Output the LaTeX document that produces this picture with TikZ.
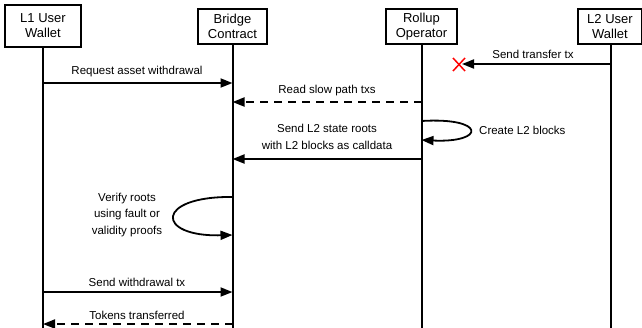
\documentclass[tikz,border=0pt]{standalone}
\usepackage{fontspec}
\setmainfont{Liberation Sans}
\usetikzlibrary{arrows.meta}
\begin{document}
\begin{tikzpicture}[x=1pt,y=-1pt,
  actor/.style={draw,line width=2pt,fill=white,align=center,inner sep=0pt,
    font=\fontsize{13}{15}\selectfont},
  lifeline/.style={line width=2pt},
  msg/.style={line width=1.8pt,-{Triangle[length=12pt,width=9pt]}},
  reply/.style={msg,dash pattern=on 8pt off 6pt},
  lbl/.style={align=center,font=\fontsize{11.5}{16.5}\selectfont,inner sep=0pt}]
\useasboundingbox (0,0) rectangle (642,327);

% participants
\node[actor,minimum width=76pt,minimum height=42pt] (l1) at (43,26) {L1 User\\Wallet};
\node[actor,minimum width=69pt,minimum height=35pt] (br) at (232.5,26.5) {Bridge\\Contract};
\node[actor,minimum width=71pt,minimum height=35pt] (ro) at (421.5,26.5) {Rollup\\Operator};
\node[actor,minimum width=64pt,minimum height=35pt] (l2) at (610,26.5) {L2 User\\Wallet};

% lifeline ends
\coordinate (l1end) at (43,328);
\coordinate (brend) at (232.5,328);
\coordinate (roend) at (421.5,328);
\coordinate (l2end) at (611,328);
\draw[lifeline] (l1.south) -- (l1end);
\draw[lifeline] (br.south) -- (brend);
\draw[lifeline] (ro.south) -- (roend);
\draw[lifeline] (l2.south) ++(1,0) -- (l2end);

% message anchors on the lifelines
\coordinate (l1a) at (43,83);   \coordinate (bra) at (232.5,83);
\coordinate (rob) at (421.5,102); \coordinate (brb) at (232.5,102);
\coordinate (roc) at (421.5,159); \coordinate (brc) at (232.5,159);
\coordinate (l2d) at (611,64);  \coordinate (xd) at (462,64);
\coordinate (ros) at (421.5,121); \coordinate (roe) at (421.5,140);
\coordinate (brs) at (232.5,197); \coordinate (bre) at (232.5,235);
\coordinate (l1f) at (43,292);  \coordinate (brf) at (232.5,292);
\coordinate (brg) at (232.5,324); \coordinate (l1g) at (43,324);

% messages
\draw[msg] (l1a) -- (bra);
\node[lbl] (m1) at (137,72) {Request asset withdrawal};

\draw[reply] (rob) -- (brb);
\node[lbl] (m2) at (327,90.5) {Read slow path txs};

\draw[msg] (roc) -- (brc);
\node[lbl] (m3) at (327,137) {Send L2 state roots\\with L2 blocks as calldata};

\draw[msg] (ros) .. controls (486,117) and (486,143) .. (roe);
\node[lbl,anchor=west] (m4) at (479,130) {Create L2 blocks};

\draw[msg] (l2d) -- (xd);
\node[lbl] (m5) at (533,54.5) {Send transfer tx};
\draw[red,line width=1.5pt] (453,58) -- (465,71) (453,71) -- (465,58);

\draw[msg] (brs) .. controls (155,196) and (155,237) .. (bre);
\node[lbl] (m6) at (127,215) {Verify roots\\using fault or\\validity proofs};

\draw[msg] (l1f) -- (brf);
\node[lbl] (m7) at (137,282) {Send withdrawal tx};

\draw[reply] (brg) -- (l1g);
\node[lbl] (m8) at (137,315.5) {Tokens transferred};
\end{tikzpicture}
\end{document}
